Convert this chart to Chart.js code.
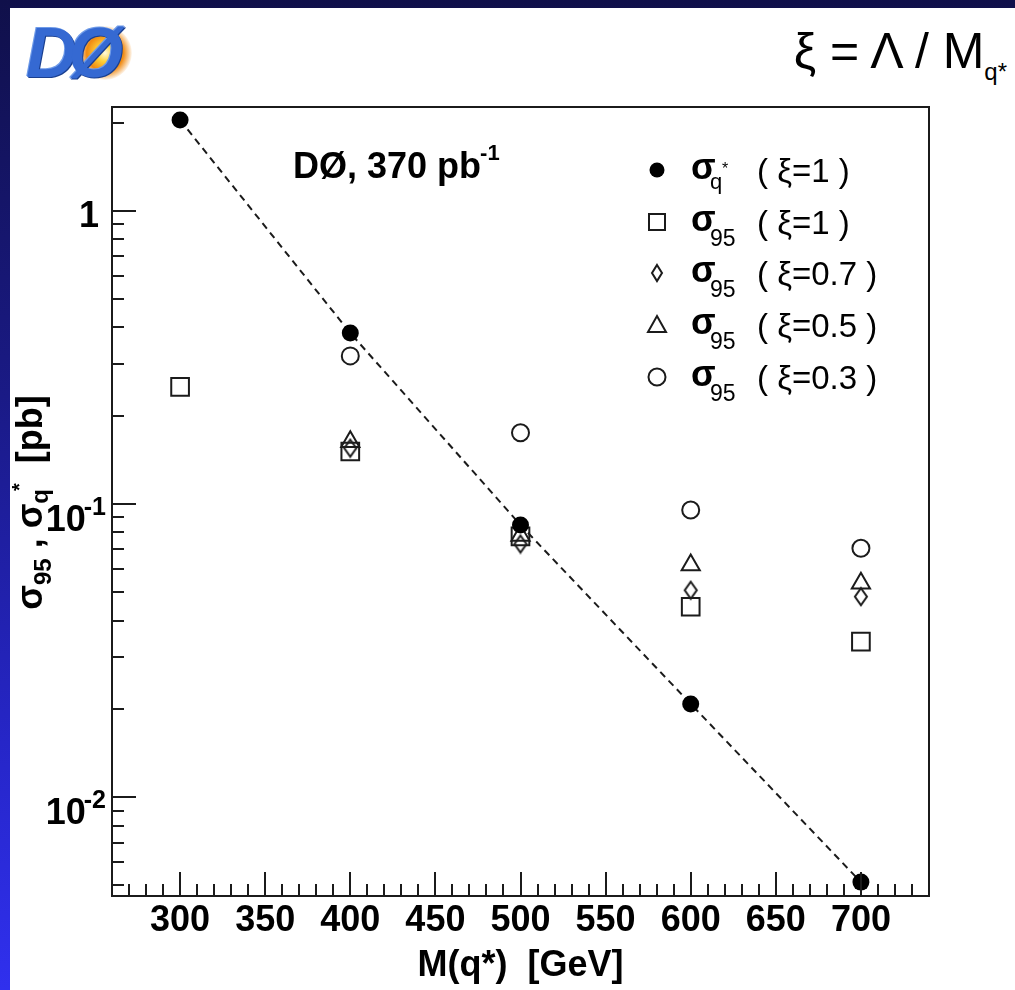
<!DOCTYPE html>
<html>
<head>
<meta charset="utf-8">
<title>q* cross section limits</title>
<script src="https://cdn.jsdelivr.net/npm/chart.js@4.4.1/dist/chart.umd.min.js"></script>
<style>
  html, body { margin: 0; padding: 0; }
  body {
    width: 1015px; height: 990px; position: relative; overflow: hidden;
    background: linear-gradient(to bottom, #10104a 0%, #1a1a86 40%, #2626c8 75%, #3030ee 100%);
  }
  #panel { position: absolute; left: 10px; top: 8px; width: 1005px; height: 982px; background: #fff; }
  #logo {
    position: absolute; left: 26px; top: 20px; width: 120px; height: 66px;
    font: italic bold 70px "Liberation Sans", Arial, sans-serif; line-height: 66px;
    color: #3569d2; letter-spacing: -8px;
    text-shadow: 1px 1px 0 #1a3f8f, -1px -1px 0 #6f9be8;
  }
  #logo .burst {
    position: absolute; left: 52px; top: 6px; width: 54px; height: 54px; border-radius: 50%;
    background: radial-gradient(circle, #fffbe0 0%, #ffd23a 22%, #f08a12 48%, rgba(240,120,20,0) 72%);
  }
  #logo span { position: relative; }
  #formula {
    position: absolute; right: 8px; top: 22px;
    font: 50px "Liberation Sans Narrow", "Liberation Sans", Arial, sans-serif; color: #000;
    white-space: nowrap;
  }
  #formula sub { font-size: 24px; vertical-align: -12px; }
  canvas { position: absolute; left: 0; top: 0; }
</style>
</head>
<body>
<div id="panel"></div>
<div id="logo"><div class="burst"></div><span>DØ</span></div>
<div id="formula">ξ = Λ / M<sub>q*</sub></div>
<canvas id="chart" width="1015" height="990"></canvas>
<script>
// values (pb), masses in GeV
const massPoints = [300, 400, 500, 600, 700];
const sigmaQStar = [2.04, 0.383, 0.0848, 0.0208, 0.00513];
const sigma95Xi10 = [0.251, 0.151, 0.0775, 0.0446, 0.0339];
const sigma95Xi07 = [null, 0.155, 0.0730, 0.0508, 0.0483];
const sigma95Xi05 = [null, 0.163, 0.0780, 0.0619, 0.0536];
const sigma95Xi03 = [null, 0.320, 0.175, 0.0954, 0.0706];

const xTickValues = [300, 350, 400, 450, 500, 550, 600, 650, 700];
const yDecades = [1, 0.1, 0.01];
const yDecadeExponents = ['', '-1', '-2'];

const legendSubs = ['q*', '95', '95', '95', '95'];
const legendXi = ['1', '1', '0.7', '0.5', '0.3'];

const INK = '#1b1b1b';
const BOLD = '"Liberation Sans", Arial, sans-serif';

function toPoints(arr) {
  return massPoints.map((m, i) => ({ x: m, y: arr[i] })).filter(p => p.y !== null);
}

function diamondCanvas(w, h, lw) {
  const c = document.createElement('canvas');
  c.width = w + lw * 2;
  c.height = h + lw * 2;
  const g = c.getContext('2d');
  g.strokeStyle = INK;
  g.lineWidth = lw;
  g.beginPath();
  g.moveTo(c.width / 2, lw);
  g.lineTo(c.width - lw, c.height / 2);
  g.lineTo(c.width / 2, c.height - lw);
  g.lineTo(lw, c.height / 2);
  g.closePath();
  g.stroke();
  return c;
}

const diamond = diamondCanvas(12, 17, 2);

// legend marker painter, same shapes as the data markers, a bit smaller
function legendMarker(ctx, kind, x, y) {
  ctx.beginPath();
  if (kind === 0) {
    ctx.arc(x, y, 7.5, 0, Math.PI * 2);
    ctx.fillStyle = '#000';
    ctx.fill();
    return;
  }
  if (kind === 1) ctx.rect(x - 8, y - 8, 16, 16);
  if (kind === 2) { ctx.moveTo(x, y - 8); ctx.lineTo(x + 5, y); ctx.lineTo(x, y + 8); ctx.lineTo(x - 5, y); ctx.closePath(); }
  if (kind === 3) { ctx.moveTo(x, y - 9); ctx.lineTo(x + 9, y + 7); ctx.lineTo(x - 9, y + 7); ctx.closePath(); }
  if (kind === 4) ctx.arc(x, y, 8.5, 0, Math.PI * 2);
  ctx.stroke();
}

const decorations = {
  id: 'decorations',
  afterDraw(chart) {
    const { ctx, chartArea: a, scales: { x, y } } = chart;
    ctx.save();
    ctx.strokeStyle = INK;
    ctx.lineWidth = 2;

    // frame
    ctx.strokeRect(a.left, a.top, a.right - a.left, a.bottom - a.top);

    // x ticks (inside, pointing up)
    ctx.beginPath();
    for (let v = 270; v <= 730; v += 10) {
      const px = Math.round(x.getPixelForValue(v));
      const len = v % 50 === 0 ? 24 : 12;
      ctx.moveTo(px, a.bottom);
      ctx.lineTo(px, a.bottom - len);
    }
    // y ticks (inside, pointing right)
    for (let e = -3; e <= 0; e++) {
      for (let m = 1; m <= 9; m++) {
        const v = m * Math.pow(10, e);
        if (v < y.min || v > y.max) continue;
        const py = Math.round(y.getPixelForValue(v));
        const len = m === 1 ? 24 : 12;
        ctx.moveTo(a.left, py);
        ctx.lineTo(a.left + len, py);
      }
    }
    ctx.stroke();

    // y tick labels with superscript exponents
    ctx.fillStyle = '#000';
    ctx.textAlign = 'right';
    ctx.textBaseline = 'alphabetic';
    yDecades.forEach((v, i) => {
      const py = y.getPixelForValue(v);
      const exp = yDecadeExponents[i];
      if (!exp) {
        ctx.font = 'bold 36px ' + BOLD;
        ctx.fillText('1', a.left - 13, py + 16);
        return;
      }
      ctx.font = 'bold 25px ' + BOLD;
      const w = ctx.measureText(exp).width;
      ctx.fillText(exp, a.left - 6, py + 11);
      ctx.font = 'bold 36px ' + BOLD;
      ctx.fillText('10', a.left - 6 - w + 2, py + 27);
    });

    // y axis title, reading upward
    ctx.save();
    ctx.translate(42, (a.top + a.bottom) / 2);
    ctx.rotate(-Math.PI / 2);
    const parts = [
      ['σ', 'bold 36px', 0], ['95', 'bold 24px', 9], [' , ', 'bold 36px', 0],
      ['σ', 'bold 36px', 0], ['q', 'bold 24px', 6], ['*', 'bold 20px', -16], ['  [pb]', 'bold 36px', 0]
    ];
    let total = 0;
    parts.forEach(p => { ctx.font = p[1] + ' ' + BOLD; total += ctx.measureText(p[0]).width; });
    let cx = -total / 2;
    ctx.textAlign = 'left';
    parts.forEach(p => {
      ctx.font = p[1] + ' ' + BOLD;
      ctx.fillText(p[0], cx, p[2]);
      if (p[0] !== 'q') cx += ctx.measureText(p[0]).width;
      else cx += ctx.measureText(p[0]).width - 2;
    });
    ctx.restore();

    // experiment label
    ctx.textAlign = 'left';
    ctx.font = 'bold 36px ' + BOLD;
    ctx.fillText('DØ, 370 pb', 293, 178);
    const wl = ctx.measureText('DØ, 370 pb').width;
    ctx.font = 'bold 22px ' + BOLD;
    ctx.fillText('-1', 293 + wl - 1, 160);

    // legend
    const rowY = [170, 222, 273, 325, 377];
    legendXi.forEach((xi, i) => {
      const yc = rowY[i];
      ctx.strokeStyle = INK;
      ctx.lineWidth = 2;
      legendMarker(ctx, i, 657, yc);
      ctx.fillStyle = '#000';
      ctx.font = 'bold 36px ' + BOLD;
      ctx.fillText('σ', 691, yc + 9);
      if (legendSubs[i] === 'q*') {
        ctx.font = '22px ' + BOLD;
        ctx.fillText('q', 710, yc + 19);
        ctx.font = '16px ' + BOLD;
        ctx.fillText('*', 722, yc + 4);
      } else {
        ctx.font = '23px ' + BOLD;
        ctx.fillText(legendSubs[i], 710, yc + 24);
      }
      ctx.font = '33px ' + BOLD;
      ctx.fillText('( ξ=' + xi + ' )', 757, yc + 12);
    });

    ctx.restore();
  }
};

Chart.defaults.font.family = BOLD;
Chart.defaults.color = '#000';

new Chart(document.getElementById('chart'), {
  type: 'scatter',
  data: {
    datasets: [
      {
        label: 'σq* (ξ=1)',
        data: toPoints(sigmaQStar),
        showLine: true,
        borderColor: INK,
        borderWidth: 2,
        borderDash: [7, 5],
        pointStyle: 'circle',
        pointRadius: 8.5,
        pointBackgroundColor: '#000',
        pointBorderColor: '#000',
        pointBorderWidth: 0
      },
      {
        label: 'σ95 (ξ=1)',
        data: toPoints(sigma95Xi10),
        pointStyle: 'rect',
        pointRadius: 12.5,
        pointBackgroundColor: 'transparent',
        pointBorderColor: INK,
        pointBorderWidth: 2
      },
      {
        label: 'σ95 (ξ=0.7)',
        data: toPoints(sigma95Xi07),
        pointStyle: diamond,
        pointRadius: 9
      },
      {
        label: 'σ95 (ξ=0.5)',
        data: toPoints(sigma95Xi05),
        pointStyle: 'triangle',
        pointRadius: 10.5,
        pointBackgroundColor: 'transparent',
        pointBorderColor: INK,
        pointBorderWidth: 2
      },
      {
        label: 'σ95 (ξ=0.3)',
        data: toPoints(sigma95Xi03),
        pointStyle: 'circle',
        pointRadius: 8.5,
        pointBackgroundColor: 'transparent',
        pointBorderColor: INK,
        pointBorderWidth: 2
      }
    ]
  },
  options: {
    responsive: false,
    animation: false,
    layout: { padding: { left: 112, top: 107, right: 86, bottom: 0 } },
    plugins: {
      legend: { display: false },
      tooltip: { enabled: false }
    },
    scales: {
      x: {
        type: 'linear',
        min: 260,
        max: 740,
        afterBuildTicks: s => { s.ticks = xTickValues.map(v => ({ value: v })); },
        afterFit: s => { s.height = 94; },
        grid: { display: false, drawTicks: false },
        border: { display: false },
        ticks: { font: { size: 36, weight: 'bold' }, color: '#000', padding: 3, maxRotation: 0 },
        title: {
          display: true,
          text: 'M(q*)  [GeV]',
          font: { size: 36, weight: 'bold' },
          color: '#000',
          padding: { top: 0, bottom: 2 }
        }
      },
      y: {
        type: 'logarithmic',
        min: 0.0046,
        max: 2.26,
        display: false
      }
    }
  },
  plugins: [decorations]
});
</script>
</body>
</html>
